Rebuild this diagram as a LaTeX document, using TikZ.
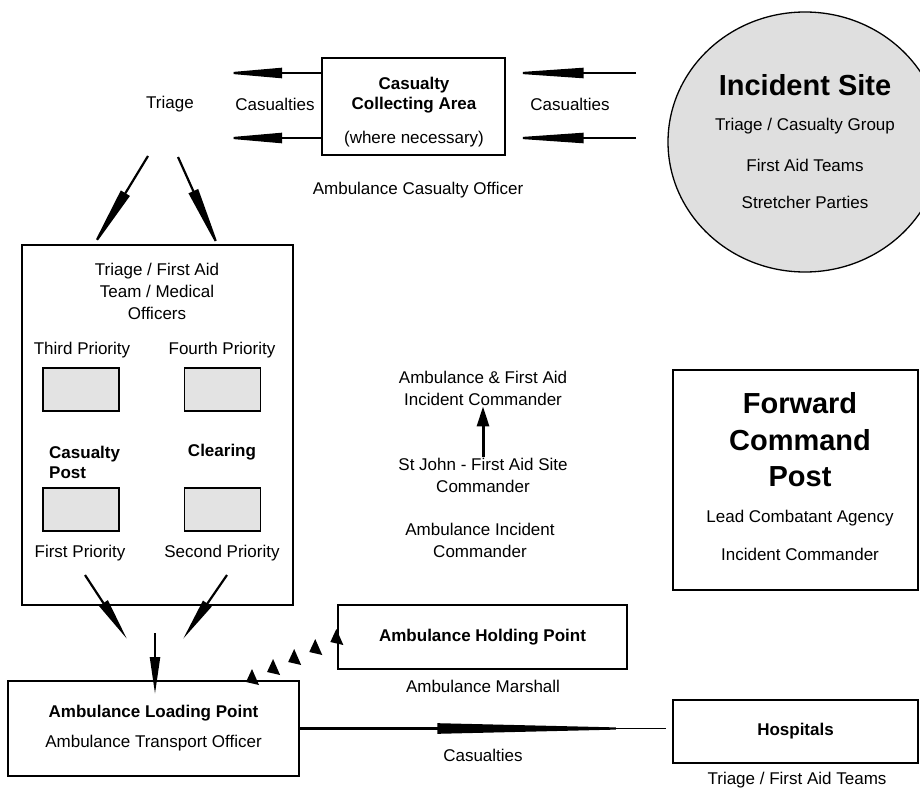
\documentclass[tikz,border=0pt]{standalone}
\usepackage{fontspec}
\setmainfont{Liberation Sans}
\usetikzlibrary{arrows.meta,calc,shapes.geometric}
\tikzset{
  font={\fontsize{17pt}{22pt}\selectfont}}

\begin{document}
\begin{tikzpicture}[x=1pt,y=-1pt,
    block_box/.style ={rectangle, draw=black, line width=1.3pt, fill=white,
      align=center, inner sep=0pt},
    block_gray/.style ={rectangle, draw=black, line width=1.3pt, fill=gray!22,
      minimum width=76pt, minimum height=43pt},
    block_clear/.style ={rectangle, draw=none, align=center, inner sep=1pt},
    block_site/.style ={ellipse, draw=black, line width=1.3pt, fill=gray!25,
      minimum width=274pt, minimum height=260pt},
    big_text/.style ={font={\fontsize{29pt}{36.5pt}\selectfont\bfseries}},
    bold_text/.style ={font={\fontsize{17pt}{20pt}\selectfont\bfseries}},
    paths2/.style ={draw, line width=2.2pt,
      arrows={-Triangle[length=#1, width=10pt]}},
    paths_up/.style ={draw, line width=3pt,
      arrows={-Triangle[length=20pt, width=12pt]}}]
    \clip (0,0) rectangle (920,789);
    % incident site
    \node[block_site] (site) at (805,142) {};
    \node[block_clear, big_text] (sitename) at (805,85) {Incident Site};
    \node[block_clear] (sitetriage) at (805,126) {Triage / Casualty Group};
    \node[block_clear] (siteaid) at (805,165) {First Aid Teams};
    \node[block_clear] (sitestretch) at (805,202) {Stretcher Parties};
    % casualty collecting area
    \node[block_box, minimum width=183pt, minimum height=97pt] (cca) at (413.5,106.5) {};
    \node[block_clear, bold_text] (ccaname) at (414,95) {Casualty\\Collecting Area};
    \node[block_clear] (ccanote) at (414,139) {(where necessary)};
    \node[block_clear] (triage) at (170,104) {Triage};
    \node[block_clear] (casleft) at (275,104) {Casualties};
    \node[block_clear] (casright) at (570,104) {Casualties};
    \node[block_clear] (ccaofficer) at (418,190) {Ambulance Casualty Officer};
    % casualty clearing post
    \node[block_box, minimum width=271pt, minimum height=360pt] (post) at (157.5,425) {};
    \node[block_clear] (postteam) at (157,291) {Triage / First Aid\\Team / Medical\\Officers};
    \node[block_clear] (third) at (82,350) {Third Priority};
    \node[block_clear] (fourth) at (222,350) {Fourth Priority};
    \node[block_gray] (thirdbox) at (81,389.5) {};
    \node[block_gray] (fourthbox) at (222.5,389.5) {};
    \node[block_clear, bold_text, align=left, anchor=west] (postname) at (48,462) {Casualty\\Post};
    \node[block_clear, bold_text] (clearing) at (222,452) {Clearing};
    \node[block_gray] (firstbox) at (81,509.5) {};
    \node[block_gray] (secondbox) at (222.5,509.5) {};
    \node[block_clear] (first) at (80,553) {First Priority};
    \node[block_clear] (second) at (222,553) {Second Priority};
    % commanders
    \node[block_clear] (afacmd) at (483,388) {Ambulance \& First Aid\\Incident Commander};
    \node[block_clear] (sjcmd) at (483,475) {St John - First Aid Site\\Commander};
    \node[block_clear] (aicmd) at (480,540) {Ambulance Incident\\Commander};
    % forward command post
    \node[block_box, minimum width=245pt, minimum height=220pt] (fcp) at (795.5,480) {};
    \node[block_clear, big_text] (fcpname) at (800,440) {Forward\\Command\\Post};
    \node[block_clear] (fcplead) at (800,518) {Lead Combatant Agency};
    \node[block_clear] (fcpcmd) at (800,554) {Incident Commander};
    % holding, loading, hospitals
    \node[block_box, minimum width=289pt, minimum height=64pt] (hold) at (482.5,637)
      {\textbf{Ambulance Holding Point}};
    \node[block_clear] (marshall) at (483,686) {Ambulance Marshall};
    \node[block_box, minimum width=291pt, minimum height=95pt] (alp) at (153.5,728.5)
      {\textbf{Ambulance Loading Point}\\[8pt]Ambulance Transport Officer};
    \node[block_box, minimum width=245pt, minimum height=63pt] (hosp) at (795.5,731.5)
      {\textbf{Hospitals}};
    \node[block_clear] (hospteams) at (797,780) {Triage / First Aid Teams};
    \node[block_clear] (casbottom) at (483,755) {Casualties};
    % free ends of the connectors
    \coordinate (outA) at (220,73);
    \coordinate (outB) at (220,138);
    \coordinate (inA) at (636,73);
    \coordinate (inB) at (636,138);
    \coordinate (triageL) at (148,156);
    \coordinate (triageR) at (178,157);
    \coordinate (postinL) at (89,253);
    \coordinate (postinR) at (222,255);
    \coordinate (firstout) at (85,575);
    \coordinate (secondout) at (227,575);
    \coordinate (postout) at (155,633);
    \coordinate (dockL) at (127,639);
    \coordinate (dockR) at (183,639);
    \coordinate (dockM) at (155,694);
    \coordinate (dockin) at (253,677);
    % connecting nodes with paths
    \begin{scope}
      \path[paths2=62pt] (cca.west |- outA) -- (outA);
      \path[paths2=62pt] (cca.west |- outB) -- (outB);
      \path[paths2=78pt] (inA) -- (cca.east |- inA);
      \path[paths2=78pt] (inB) -- (cca.east |- inB);
      \path[paths2=70pt] (triageL) -- (postinL);
      \path[paths2=70pt] (triageR) -- (postinR);
      \path[paths2=43pt] (firstout) -- (dockL);
      \path[paths2=43pt] (secondout) -- (dockR);
      \path[paths2=37pt] (postout) -- (dockM);
      \path[draw, line width=0.8pt, shorten >=6pt] (alp.east) -- (alp.east -| hosp.west);
      \path[paths2=229pt, shorten >=6pt] (alp.east) -- (alp.east -| hosp.west);
      \path[paths_up] (sjcmd) -- (afacmd);
    \end{scope}
    % ambulances from holding point
    \foreach \t in {0,0.25,0.5,0.75,1}
      \fill ($(hold.west)!\t!(dockin)$) ++(-1,-8) -- ++(-6,13) -- ++(13,3) -- cycle;
  \end{tikzpicture}
\end{document}
